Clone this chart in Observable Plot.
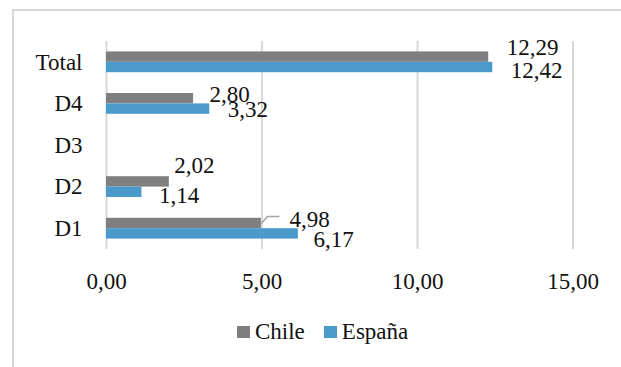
<!DOCTYPE html>
<html>
<head>
<meta charset="utf-8">
<script src="https://cdn.jsdelivr.net/npm/d3@7"></script>
<script src="https://cdn.jsdelivr.net/npm/@observablehq/plot@0.6"></script>
<style>
  html, body { margin: 0; padding: 0; background: #fff; overflow: hidden; }
  #wrap { position: relative; width: 621px; height: 367px; overflow: hidden;
          font-family: "Liberation Serif", Tinos, "Times New Roman", "DejaVu Serif", serif; color: #111; }
  #frame { position: absolute; left: 12px; top: 9px; width: 700px; height: 420px;
           border: 2px solid #d9d9d9; box-sizing: border-box; }
  #chart { position: absolute; left: 0; top: 0; }
  #legend { position: absolute; left: 237px; top: 319px; display: flex; align-items: center;
            font-size: 23px; line-height: 26px; }
  #legend .item { display: flex; align-items: center; }
  #legend .sw { width: 13px; height: 12px; margin-right: 5px; }
  #legend .item + .item { margin-left: 19px; }
  #chart svg, #chart svg text { font-family: "Liberation Serif", Tinos, "Times New Roman", "DejaVu Serif", serif !important; }
</style>
</head>
<body>
<div id="wrap">
  <div id="frame"></div>
  <div id="chart"></div>
  <div id="legend"></div>
</div>
<script>
// Categories from bottom to top of the chart
const categories = ["D1", "D2", "D3", "D4", "Total"];
const series = ["Chile", "España"];
const chileValues = [4.98, 2.02, null, 2.80, 12.29];
const espanaValues = [6.17, 1.14, null, 3.32, 12.42];
const xTicks = [0, 5, 10, 15];

const colors = { "Chile": "#7f7f7f", "España": "#4a9bcb" };

// Hand-placed label nudges (pixels), as the labels sit in the original layout
const labelNudge = {
  "Total|Chile": [18, -9], "Total|España": [18, 3],
  "D4|Chile": [16, -4], "D4|España": [18, 1],
  "D2|Chile": [5, -16], "D2|España": [17, 3],
  "D1|Chile": [28, -4], "D1|España": [15, 6]
};
// Labels pulled away from their bar get a leader line
const leaders = ["D1|Chile"];

const barHalf = 0.25; // each bar takes a quarter of a category step
const rows = [];
categories.forEach((c, i) => {
  [chileValues, espanaValues].forEach((vals, s) => {
    const v = vals[i];
    if (v == null) return;
    const name = series[s];
    const y1 = s === 0 ? i : i - barHalf;
    const y2 = s === 0 ? i + barHalf : i;
    const key = c + "|" + name;
    const [dx, dy] = labelNudge[key] || [4, 0];
    rows.push({ category: c, series: name, value: v, y1, y2, ym: (y1 + y2) / 2, dx, dy, key });
  });
});

const fmt = v => v.toFixed(2).replace(".", ",");

// Leader: short diagonal rising from the bar end, then a horizontal run
const leaderSymbol = {
  draw(ctx) {
    ctx.moveTo(0, 0);
    ctx.lineTo(6, -7);
    ctx.lineTo(18, -7);
  }
};

const plot = Plot.plot({
  width: 621,
  height: 300,
  marginTop: 41,
  marginBottom: 51,
  marginLeft: 106,
  marginRight: 48.5,
  style: { fontSize: "23px", color: "#111", background: "transparent" },
  x: { domain: [0, 15], ticks: xTicks, tickFormat: fmt, tickSize: 0, tickPadding: 23, label: null },
  y: { domain: [-0.5, 4.5], ticks: d3.range(categories.length), tickFormat: i => categories[i], tickSize: 0, tickPadding: 24, label: null },
  marks: [
    Plot.ruleX(xTicks, { stroke: "#d9d9d9", strokeWidth: 2 }),
    Plot.rectX(rows, { x1: 0, x2: "value", y1: "y1", y2: "y2", fill: d => colors[d.series] }),
    Plot.dot(rows.filter(d => leaders.includes(d.key)), {
      x: "value", y: "ym", symbol: leaderSymbol, r: 5, fill: "none", stroke: "#a6a6a6", strokeWidth: 1.5
    }),
    ...rows.map(d => Plot.text([d], {
      x: "value", y: "ym", text: r => fmt(r.value), textAnchor: "start",
      dx: d.dx, dy: d.dy, fill: "#111", fontSize: 23
    }))
  ]
});
document.getElementById("chart").appendChild(plot);

// Legend below the plot
const legend = document.getElementById("legend");
series.forEach(s => {
  const item = document.createElement("div");
  item.className = "item";
  const sw = document.createElement("span");
  sw.className = "sw";
  sw.style.background = colors[s];
  const label = document.createElement("span");
  label.textContent = s;
  item.append(sw, label);
  legend.appendChild(item);
});
</script>
</body>
</html>
